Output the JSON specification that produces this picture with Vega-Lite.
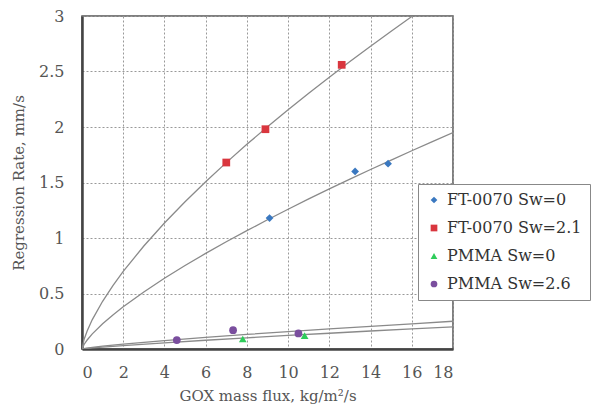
{
  "$schema": "https://vega.github.io/schema/vega-lite/v6.json",
  "autosize": "none",
  "padding": {"left": 82, "top": 16, "right": 145, "bottom": 65},
  "width": 371,
  "height": 333,
  "background": "white",
  "config": {
    "font": "DejaVu Serif",
    "view": {"stroke": "#555", "strokeWidth": 1.5},
    "axis": {
      "labelFont": "DejaVu Serif",
      "titleFont": "DejaVu Serif",
      "labelFontSize": 16,
      "titleFontSize": 15,
      "labelColor": "#555",
      "titleColor": "#555",
      "titleFontWeight": "normal",
      "domainColor": "#444",
      "domainWidth": 2.5,
      "tickSize": 0,
      "gridColor": "#999",
      "gridDash": [2, 2],
      "gridWidth": 1
    }
  },
  "datasets": {
    "curves": [
      {"curve": "FT-0070 Sw=2.1", "x": 0, "y": 0},
      {"curve": "FT-0070 Sw=2.1", "x": 0.1, "y": 0.086},
      {"curve": "FT-0070 Sw=2.1", "x": 0.25, "y": 0.163},
      {"curve": "FT-0070 Sw=2.1", "x": 0.5, "y": 0.265},
      {"curve": "FT-0070 Sw=2.1", "x": 1, "y": 0.43},
      {"curve": "FT-0070 Sw=2.1", "x": 1.5, "y": 0.571},
      {"curve": "FT-0070 Sw=2.1", "x": 2, "y": 0.699},
      {"curve": "FT-0070 Sw=2.1", "x": 3, "y": 0.928},
      {"curve": "FT-0070 Sw=2.1", "x": 4, "y": 1.135},
      {"curve": "FT-0070 Sw=2.1", "x": 5, "y": 1.327},
      {"curve": "FT-0070 Sw=2.1", "x": 6, "y": 1.507},
      {"curve": "FT-0070 Sw=2.1", "x": 7, "y": 1.679},
      {"curve": "FT-0070 Sw=2.1", "x": 8, "y": 1.844},
      {"curve": "FT-0070 Sw=2.1", "x": 9, "y": 2.002},
      {"curve": "FT-0070 Sw=2.1", "x": 10, "y": 2.155},
      {"curve": "FT-0070 Sw=2.1", "x": 11, "y": 2.304},
      {"curve": "FT-0070 Sw=2.1", "x": 12, "y": 2.449},
      {"curve": "FT-0070 Sw=2.1", "x": 13, "y": 2.59},
      {"curve": "FT-0070 Sw=2.1", "x": 14, "y": 2.727},
      {"curve": "FT-0070 Sw=2.1", "x": 15, "y": 2.862},
      {"curve": "FT-0070 Sw=2.1", "x": 16, "y": 2.995},
      {"curve": "FT-0070 Sw=2.1", "x": 16.04, "y": 3.0},
      {"curve": "FT-0070 Sw=0", "x": 0, "y": 0},
      {"curve": "FT-0070 Sw=0", "x": 0.1, "y": 0.041},
      {"curve": "FT-0070 Sw=0", "x": 0.25, "y": 0.081},
      {"curve": "FT-0070 Sw=0", "x": 0.5, "y": 0.136},
      {"curve": "FT-0070 Sw=0", "x": 1, "y": 0.227},
      {"curve": "FT-0070 Sw=0", "x": 1.5, "y": 0.307},
      {"curve": "FT-0070 Sw=0", "x": 2, "y": 0.38},
      {"curve": "FT-0070 Sw=0", "x": 3, "y": 0.514},
      {"curve": "FT-0070 Sw=0", "x": 4, "y": 0.637},
      {"curve": "FT-0070 Sw=0", "x": 5, "y": 0.752},
      {"curve": "FT-0070 Sw=0", "x": 6, "y": 0.861},
      {"curve": "FT-0070 Sw=0", "x": 7, "y": 0.966},
      {"curve": "FT-0070 Sw=0", "x": 8, "y": 1.066},
      {"curve": "FT-0070 Sw=0", "x": 9, "y": 1.164},
      {"curve": "FT-0070 Sw=0", "x": 10, "y": 1.259},
      {"curve": "FT-0070 Sw=0", "x": 11, "y": 1.352},
      {"curve": "FT-0070 Sw=0", "x": 12, "y": 1.442},
      {"curve": "FT-0070 Sw=0", "x": 13, "y": 1.53},
      {"curve": "FT-0070 Sw=0", "x": 14, "y": 1.617},
      {"curve": "FT-0070 Sw=0", "x": 15, "y": 1.702},
      {"curve": "FT-0070 Sw=0", "x": 16, "y": 1.786},
      {"curve": "FT-0070 Sw=0", "x": 17, "y": 1.869},
      {"curve": "FT-0070 Sw=0", "x": 18, "y": 1.949},
      {"curve": "PMMA Sw=2.6", "x": 0, "y": 0},
      {"curve": "PMMA Sw=2.6", "x": 0.5, "y": 0.0147},
      {"curve": "PMMA Sw=2.6", "x": 1, "y": 0.0254},
      {"curve": "PMMA Sw=2.6", "x": 2, "y": 0.044},
      {"curve": "PMMA Sw=2.6", "x": 4, "y": 0.076},
      {"curve": "PMMA Sw=2.6", "x": 6, "y": 0.105},
      {"curve": "PMMA Sw=2.6", "x": 8, "y": 0.131},
      {"curve": "PMMA Sw=2.6", "x": 10, "y": 0.157},
      {"curve": "PMMA Sw=2.6", "x": 12, "y": 0.181},
      {"curve": "PMMA Sw=2.6", "x": 14, "y": 0.204},
      {"curve": "PMMA Sw=2.6", "x": 16, "y": 0.227},
      {"curve": "PMMA Sw=2.6", "x": 18, "y": 0.25},
      {"curve": "PMMA Sw=0", "x": 0, "y": 0},
      {"curve": "PMMA Sw=0", "x": 0.5, "y": 0.0095},
      {"curve": "PMMA Sw=0", "x": 1, "y": 0.0172},
      {"curve": "PMMA Sw=0", "x": 2, "y": 0.031},
      {"curve": "PMMA Sw=0", "x": 4, "y": 0.056},
      {"curve": "PMMA Sw=0", "x": 6, "y": 0.079},
      {"curve": "PMMA Sw=0", "x": 8, "y": 0.101},
      {"curve": "PMMA Sw=0", "x": 10, "y": 0.122},
      {"curve": "PMMA Sw=0", "x": 12, "y": 0.142},
      {"curve": "PMMA Sw=0", "x": 14, "y": 0.162},
      {"curve": "PMMA Sw=0", "x": 16, "y": 0.182},
      {"curve": "PMMA Sw=0", "x": 18, "y": 0.2}
    ],
    "points": [
      {"series": "FT-0070 Sw=0", "x": 9.1, "y": 1.18},
      {"series": "FT-0070 Sw=0", "x": 13.25, "y": 1.6},
      {"series": "FT-0070 Sw=0", "x": 14.85, "y": 1.67},
      {"series": "FT-0070 Sw=2.1", "x": 7.0, "y": 1.68},
      {"series": "FT-0070 Sw=2.1", "x": 8.9, "y": 1.98},
      {"series": "FT-0070 Sw=2.1", "x": 12.6, "y": 2.56},
      {"series": "PMMA Sw=0", "x": 7.8, "y": 0.09},
      {"series": "PMMA Sw=0", "x": 10.8, "y": 0.12},
      {"series": "PMMA Sw=2.6", "x": 4.6, "y": 0.08},
      {"series": "PMMA Sw=2.6", "x": 7.33, "y": 0.17},
      {"series": "PMMA Sw=2.6", "x": 10.5, "y": 0.14}
    ]
  },
  "layer": [
    {
      "data": {"name": "curves"},
      "mark": {"type": "line", "color": "#8a8a8a", "strokeWidth": 1.3, "clip": true},
      "encoding": {
        "x": {"field": "x", "type": "quantitative", "scale": {"domain": [0, 18], "nice": false},
          "axis": {"values": [0, 2, 4, 6, 8, 10, 12, 14, 16, 18], "format": "~g", "title": "GOX mass flux, kg/m²/s",
            "labelFont": "DejaVu Serif", "titleFont": "DejaVu Serif", "labelPadding": 15, "titlePadding": 8}},
        "y": {"field": "y", "type": "quantitative", "scale": {"domain": [0, 3], "nice": false},
          "axis": {"values": [0, 0.5, 1, 1.5, 2, 2.5, 3], "format": "~g", "title": "Regression Rate, mm/s",
            "labelFont": "DejaVu Serif", "titleFont": "DejaVu Serif", "labelPadding": 18, "titlePadding": 12}},
        "detail": {"field": "curve"}
      }
    },
    {
      "data": {"name": "points"},
      "mark": {"type": "point", "filled": true, "opacity": 1, "size": 60},
      "encoding": {
        "x": {"field": "x", "type": "quantitative"},
        "y": {"field": "y", "type": "quantitative"},
        "color": {"field": "series", "type": "nominal",
          "scale": {"domain": ["FT-0070 Sw=0", "FT-0070 Sw=2.1", "PMMA Sw=0", "PMMA Sw=2.6"],
            "range": ["#3a78c0", "#d9363e", "#2ecc5a", "#7a4e9e"]},
          "legend": {"title": null, "orient": "none", "legendX": 336, "legendY": 168,
            "labelFont": "DejaVu Serif", "labelFontSize": 16, "labelColor": "#333",
            "fillColor": "white", "strokeColor": "#888", "padding": 8, "rowPadding": 12,
            "symbolSize": 45, "labelOffset": 5}},
        "shape": {"field": "series", "type": "nominal",
          "scale": {"domain": ["FT-0070 Sw=0", "FT-0070 Sw=2.1", "PMMA Sw=0", "PMMA Sw=2.6"],
            "range": ["diamond", "square", "triangle-up", "circle"]},
          "legend": null}
      }
    }
  ]
}
